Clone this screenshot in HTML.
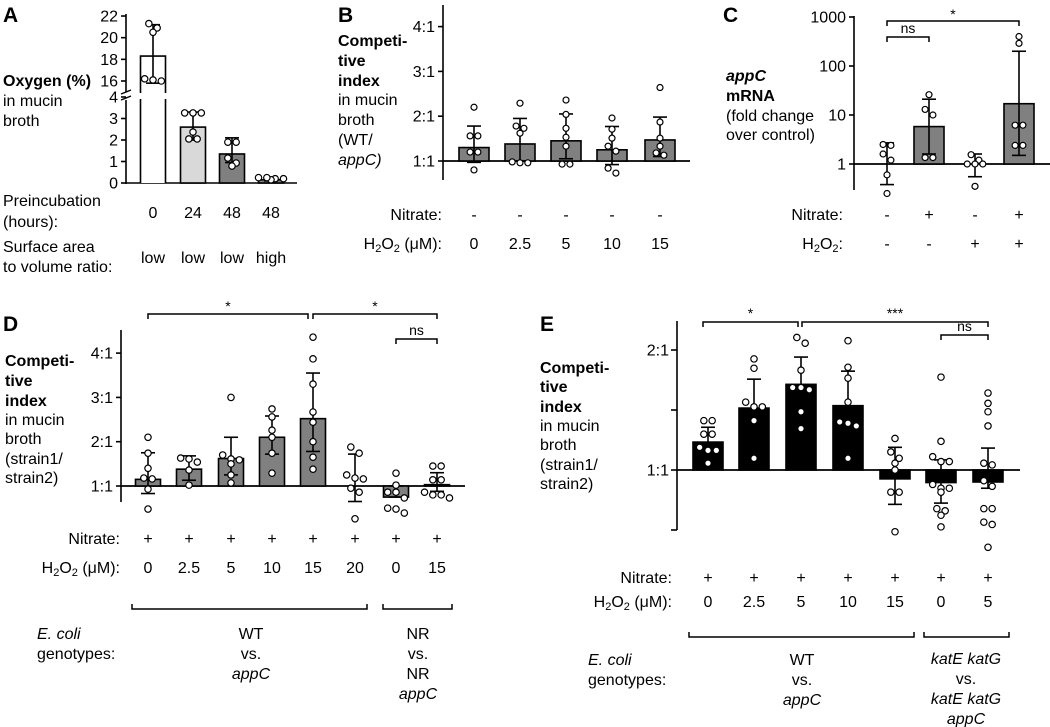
<!DOCTYPE html>
<html><head><meta charset="utf-8"><style>
html,body{margin:0;padding:0;background:#fff;}
svg{display:block;font-family:"Liberation Sans",Arial,sans-serif;}
text{fill:#000;}
</style></head><body>
<svg id="fig" width="1050" height="727" viewBox="0 0 1050 727" xmlns="http://www.w3.org/2000/svg"></svg>
<script>
// ---------- Panel A data ----------
const aCats = ["0","24","48","48"];
const aArea = ["low","low","low","high"];
const aMeans = [18.3,2.6,1.35,0.15];
const aLo = [15.8,2.0,0.95,0.1];
const aHi = [21.2,3.3,2.1,0.25];
const aPts = [[20.9,21.3,20.5,16.0,16.2,16.1],[3.26,3.26,3.26,2.37,2.05,2.05],[1.9,1.9,1.16,0.93,0.79],[0.25,0.2,0.15,0.2,0.25]];
const aFills = ["#ffffff","#d9d9d9","#808080","#808080"];
const aTicksLow = [0,1,2,3,4];
const aTicksHigh = [16,18,20,22];
// ---------- Panel B data ----------
const bNitrate = ["-","-","-","-","-"];
const bH2O2 = ["0","2.5","5","10","15"];
const bMeans = [1.3,1.38,1.45,1.25,1.47];
const bLo = [0.97,1.0,1.05,0.92,1.1];
const bHi = [1.78,1.95,2.05,1.77,1.98];
const bPts = [[2.2,1.56,1.56,1.2,1.2,0.8],[2.29,1.73,1.62,1.78,0.96,0.98,0.96],[2.36,2.04,1.73,1.53,1.33,0.93,0.93],[1.96,1.71,1.51,1.33,1.22,0.84,0.73],[2.64,1.87,1.51,1.33,1.18,1.13]];
const bTicks = [1,2,3,4];
const bTickLabels = ["1:1","2:1","3:1","4:1"];
// ---------- Panel C data ----------
const cNitrate = ["-","+","-","+"];
const cH2O2 = ["-","-","+","+"];
const cMeans = [1,5.8,1,17];
const cLo = [0.38,1.6,0.55,1.5];
const cHi = [2.7,21,1.6,200];
const cPts = [[2.5,2.4,1.6,1.2,0.6,0.25],[26,13,10,1.35,1.35],[1.55,1.2,1.0,1.0,1.0,0.35],[400,290,6.2,6.2,2.4,2.4]];
const cTicks = [1,10,100,1000];
const cTickLabels = ["1","10","100","1000"];
// ---------- Panel D data ----------
const dNitrate = ["+","+","+","+","+","+","+","+"];
const dH2O2 = ["0","2.5","5","10","15","20","0","15"];
const dMeans = [1.15,1.38,1.62,2.1,2.52,1.0,0.75,1.03];
const dLo = [0.83,1.13,1.25,1.72,1.78,0.65,0.75,0.88];
const dHi = [1.75,1.68,2.1,2.58,3.55,1.72,1.0,1.3];
const dPts = [[2.1,1.74,1.4,1.18,1.16,0.93,0.48],[1.63,1.61,1.54,1.36,1.02],[3.0,1.7,1.61,1.59,1.5,1.25,1.07],[2.74,2.56,2.26,2.1,1.74,1.29],[4.36,3.87,3.3,2.67,2.44,2.0,1.65,1.38],[1.88,1.74,1.25,1.18,1.16,0.95,0.86,0.26],[1.29,1.02,0.86,0.86,0.73,0.5,0.48,0.39],[1.45,1.45,1.14,1.14,0.86,0.8,0.8,0.73]];
const dTicks = [1,2,3,4];
const dTickLabels = ["1:1","2:1","3:1","4:1"];
// ---------- Panel E data ----------
const eNitrate = ["+","+","+","+","+","+","+"];
const eH2O2 = ["0","2.5","5","10","15","0","5"];
const eMeans = [1.175,1.43,1.64,1.45,0.95,0.93,0.933];
const eLo = [1.07,1.2,1.4,1.2,0.82,0.826,0.9];
const eHi = [1.28,1.69,1.92,1.77,1.14,1.06,1.135];
const ePts = [[1.33,1.33,1.23,1.23,1.14,1.12,1.12,1.04],[1.9,1.8,1.48,1.44,1.44,1.33,1.07],[2.15,2.08,1.78,1.61,1.61,1.59,1.4,1.27],[2.11,1.81,1.7,1.48,1.32,1.29,1.31,1.07],[1.2,1.11,1.07,1.04,1.0,0.88,0.88,0.70],[1.71,1.18,1.08,1.05,1.05,0.92,0.9,0.9,0.88,0.8,0.79,0.77,0.72],[1.56,1.47,1.4,1.29,1.04,1.03,0.94,0.91,0.8,0.8,0.74,0.73,0.64]];
const eTicks = [0.7071,1,1.4142,2];
const eTickLabels = ["","1:1","","2:1"];

const NS="http://www.w3.org/2000/svg";
const svg=document.getElementById('fig');
function el(tag,attrs,parent){const e=document.createElementNS(NS,tag);for(const k in attrs)e.setAttribute(k,attrs[k]);(parent||svg).appendChild(e);return e;}
function txt(x,y,s,opts,parent){opts=opts||{};const t=el('text',{x:x,y:y,'font-size':opts.size||15,'text-anchor':opts.anchor||'start','font-weight':opts.bold?'bold':'normal','font-style':opts.italic?'italic':'normal'},parent);t.textContent=s;return t;}
function line(x1,y1,x2,y2,w,parent){return el('line',{x1:x1,y1:y1,x2:x2,y2:y2,stroke:'#000','stroke-width':w||1.6},parent);}
function g(name){const e=el('g',{});return e;}

// cluster points with near y, spread horizontally within cluster
function jitter(ys,sp){
  const idx=ys.map((y,i)=>i).sort((a,b)=>ys[a]-ys[b]);
  const off=new Array(ys.length).fill(0);
  let cl=[];
  const flush=()=>{const n=cl.length;cl.forEach((k,j)=>{off[k]=(j-(n-1)/2)*sp;});cl=[];};
  idx.forEach(k=>{ if(cl.length&&Math.abs(ys[k]-ys[cl[0]])>6.5)flush(); cl.push(k); if(cl.length>=4)flush(); });
  flush();
  return off;
}

function drawBarsAndPoints(G,xs,means,lo,hi,pts,fy,base,bw,fill,pr){
  xs.forEach((x,i)=>{
    const fillC=Array.isArray(fill)?fill[i]:fill;
    const yT=fy(means[i]);
    const top=Math.min(yT,base),h=Math.abs(yT-base);
    if(h>0.5){const r=el('rect',{x:x-bw/2,y:top,width:bw,height:h,fill:fillC,stroke:'#000','stroke-width':1.6},G);
      
      }
    const eg=el('g',{},G);
    
    
    line(x,fy(lo[i]),x,fy(hi[i]),1.6,eg);
    line(x-7,fy(hi[i]),x+7,fy(hi[i]),1.6,eg);
    line(x-7,fy(lo[i]),x+7,fy(lo[i]),1.6,eg);
    const ys=pts[i].map(v=>fy(v));
    const off=jitter(ys,(pr||3.2)*2.6);
    ys.forEach((y,j)=>{
      const c=el('circle',{cx:x+off[j],cy:y,r:pr||3.2,fill:'#fff',stroke:'#000','stroke-width':1.2},G);
      
      
    });
  });
}
function bracket(G,x1,x2,y,label,ly){
  el('path',{d:`M${x1},${y+5}V${y}H${x2}V${y+5}`,fill:'none',stroke:'#000','stroke-width':1.5},G);
  txt((x1+x2)/2,ly,label,{anchor:'middle',size:14},G);
}
function h2o2(G,x,y,suffix){const t=txt(x,y,'',{anchor:'end',size:16},G);
  const a=el('tspan',{},t);a.textContent='H';const b=el('tspan',{'font-size':11,dy:3},t);b.textContent='2';
  const c=el('tspan',{dy:-3},t);c.textContent='O';const d=el('tspan',{'font-size':11,dy:3},t);d.textContent='2';
  const e=el('tspan',{dy:-3},t);e.textContent=suffix;}

// ---------- Panel A ----------
(function(){
  const G=g('panel-a');
  txt(3,22,'A',{size:21,bold:true},G);
  const ax=126, base=183;
  const yLow=v=>183-v*21.5;
  const yHigh=v=>81-(v-16)*10.83;
  const fy=v=>v>4?yHigh(v):yLow(v);
  const xs=[153,193,232,271];
  line(ax,14,ax,92,1.6,G); line(ax,100,ax,184,1.6,G);
  line(ax-5,94,ax+5,90,1.4,G); line(ax-5,100,ax+5,96,1.4,G);
  aTicksLow.forEach(t=>{line(ax-5,yLow(t),ax,yLow(t),1.6,G);txt(ax-8,yLow(t)+5.5,String(t),{anchor:'end',size:16},G);});
  aTicksHigh.forEach(t=>{line(ax-5,yHigh(t),ax,yHigh(t),1.6,G);txt(ax-8,yHigh(t)+5.5,String(t),{anchor:'end',size:16},G);});
  line(ax,base,297,base,1.6,G);
  xs.forEach((x,i)=>{
    if(aMeans[i]>4){
      const r=el('rect',{x:x-12.5,y:yHigh(aMeans[i]),width:25,height:base-yHigh(aMeans[i]),fill:aFills[i],stroke:'none'},G);
      
      
      el('path',{d:`M${x-12.5},${base}V99 M${x+12.5},${base}V99 M${x-12.5},93V${yHigh(aMeans[i])}H${x+12.5}V93`,fill:'none',stroke:'#000','stroke-width':1.6},G);
    }
  });
  drawBarsAndPoints(G,xs,aMeans.map(v=>v>4?0:v),aLo,aHi,aPts,fy,base,25,aFills,3.2);
  txt(3,86,'Oxygen (%)',{bold:true,size:16},G);
  txt(3,106,'in mucin',{size:16},G);
  txt(3,126,'broth',{size:16},G);
  txt(3,206,'Preincubation',{size:16},G);
  txt(3,227,'(hours):',{size:16},G);
  txt(3,252,'Surface area',{size:16},G);
  txt(3,272,'to volume ratio:',{size:16},G);
  xs.forEach((x,i)=>{txt(x,218,aCats[i],{anchor:'middle',size:16},G);txt(x,263,aArea[i],{anchor:'middle',size:16},G);});
})();

// ---------- Panel B ----------
(function(){
  const G=g('panel-b');
  txt(338,22,'B',{size:21,bold:true},G);
  const ax=443, fy=v=>161-(v-1)*44.8;
  line(ax,5,ax,180,1.6,G);
  bTicks.forEach((t,i)=>{line(ax-5,fy(t),ax,fy(t),1.6,G);txt(ax-8,fy(t)+5.5,bTickLabels[i],{anchor:'end',size:16},G);});
  line(ax,fy(1),690,fy(1),1.8,G);
  const xs=[474,520,566,612,660];
  drawBarsAndPoints(G,xs,bMeans,bLo,bHi,bPts,fy,fy(1),30,'#808080',3);
  txt(338,46,'Competi-',{bold:true,size:16},G);
  txt(338,66,'tive',{bold:true,size:16},G);
  txt(338,86,'index',{bold:true,size:16},G);
  txt(338,105,'in mucin',{size:16},G);
  txt(338,125,'broth',{size:16},G);
  txt(338,145,'(WT/',{size:16},G);
  txt(338,165,'appC)',{size:16,italic:true},G);
  txt(442,220,'Nitrate:',{anchor:'end',size:16},G);
  h2o2(G,442,249,' (\u03bcM):');
  xs.forEach((x,i)=>{txt(x,220,bNitrate[i],{anchor:'middle',size:16},G);txt(x,249,bH2O2[i],{anchor:'middle',size:16},G);});
})();

// ---------- Panel C ----------
(function(){
  const G=g('panel-c');
  txt(723,22,'C',{size:21,bold:true},G);
  const ax=854, fy=v=>164-49*Math.log10(v);
  line(ax,16,ax,190,1.6,G);
  cTicks.forEach((t,i)=>{line(ax-5,fy(t),ax,fy(t),1.6,G);txt(ax-8,fy(t)+5.5,cTickLabels[i],{anchor:'end',size:16},G);});
  line(ax,fy(1),1050,fy(1),1.8,G);
  const xs=[887,929,975,1019];
  drawBarsAndPoints(G,xs,cMeans,cLo,cHi,cPts,fy,fy(1),30,'#808080',3);
  bracket(G,887,929,37,'ns',33);
  bracket(G,887,1019,21,'*',19);
  txt(726,81,'appC',{bold:true,italic:true,size:16},G);
  txt(726,101,'mRNA',{bold:true,size:16},G);
  txt(726,121,'(fold change',{size:16},G);
  txt(726,140,'over control)',{size:16},G);
  txt(843,220,'Nitrate:',{anchor:'end',size:16},G);
  h2o2(G,843,249,':');
  xs.forEach((x,i)=>{txt(x,220,cNitrate[i],{anchor:'middle',size:16},G);txt(x,249,cH2O2[i],{anchor:'middle',size:16},G);});
})();

// ---------- Panel D ----------
(function(){
  const G=g('panel-d');
  txt(3,331,'D',{size:21,bold:true},G);
  const ax=121, fy=v=>486-(v-1)*44.3;
  line(ax,330,ax,502,1.6,G);
  dTicks.forEach((t,i)=>{line(ax-5,fy(t),ax,fy(t),1.6,G);txt(ax-8,fy(t)+5.5,dTickLabels[i],{anchor:'end',size:16},G);});
  line(ax,fy(1),465,fy(1),1.8,G);
  const xs=[148,189,231,272,313,355,396,437];
  drawBarsAndPoints(G,xs,dMeans,dLo,dHi,dPts,fy,fy(1),25,'#808080',3.2);
  bracket(G,148,308,314,'*',311);
  bracket(G,313,437,314,'*',311);
  bracket(G,396,437,339,'ns',335);
  txt(5,366,'Competi-',{bold:true,size:16},G);
  txt(5,386,'tive',{bold:true,size:16},G);
  txt(5,406,'index',{bold:true,size:16},G);
  txt(5,425,'in mucin',{size:16},G);
  txt(5,444,'broth',{size:16},G);
  txt(5,464,'(strain1/',{size:16},G);
  txt(5,483,'strain2)',{size:16},G);
  txt(120,544,'Nitrate:',{anchor:'end',size:16},G);
  h2o2(G,120,573,' (\u03bcM):');
  xs.forEach((x,i)=>{txt(x,544,dNitrate[i],{anchor:'middle',size:16},G);txt(x,573,dH2O2[i],{anchor:'middle',size:16},G);});
  el('path',{d:'M132,604V609H367V604 M383,604V609H452V604',fill:'none',stroke:'#000','stroke-width':1.5},G);
  txt(37,639,'E. coli',{italic:true,size:16},G);
  txt(37,659,'genotypes:',{size:16},G);
  txt(251,639,'WT',{anchor:'middle',size:16},G);
  txt(251,659,'vs.',{anchor:'middle',size:16},G);
  txt(251,679,'appC',{anchor:'middle',italic:true,size:16},G);
  txt(418,639,'NR',{anchor:'middle',size:16},G);
  txt(418,659,'vs.',{anchor:'middle',size:16},G);
  txt(418,679,'NR',{anchor:'middle',size:16},G);
  txt(418,699,'appC',{anchor:'middle',italic:true,size:16},G);
})();

// ---------- Panel E ----------
(function(){
  const G=g('panel-e');
  txt(540,331,'E',{size:21,bold:true},G);
  const ax=677, fy=v=>470-120*Math.log2(v);
  line(ax,321,ax,530,1.6,G);
  eTicks.forEach((t,i)=>{line(ax-6,fy(t),ax,fy(t),1.6,G);if(eTickLabels[i])txt(ax-8,fy(t)+5.5,eTickLabels[i],{anchor:'end',size:16},G);});
  line(ax,fy(1),1020,fy(1),1.8,G);
  const xs=[708,754,801,848,895,941,988];
  drawBarsAndPoints(G,xs,eMeans,eLo,eHi,ePts,fy,fy(1),30,'#000',3.2);
  bracket(G,703,798,322,'*',318);
  bracket(G,802,988,322,'***',318);
  bracket(G,941,988,335,'ns',331);
  txt(540,373,'Competi-',{bold:true,size:16},G);
  txt(540,392,'tive',{bold:true,size:16},G);
  txt(540,412,'index',{bold:true,size:16},G);
  txt(540,431,'in mucin',{size:16},G);
  txt(540,450,'broth',{size:16},G);
  txt(540,470,'(strain1/',{size:16},G);
  txt(540,489,'strain2)',{size:16},G);
  txt(672,583,'Nitrate:',{anchor:'end',size:16},G);
  h2o2(G,672,607,' (\u03bcM):');
  xs.forEach((x,i)=>{txt(x,583,eNitrate[i],{anchor:'middle',size:16},G);txt(x,607,eH2O2[i],{anchor:'middle',size:16},G);});
  el('path',{d:'M689,632V637H914V632 M924,632V637H1009V632',fill:'none',stroke:'#000','stroke-width':1.5},G);
  txt(588,665,'E. coli',{italic:true,size:16},G);
  txt(588,685,'genotypes:',{size:16},G);
  txt(802,665,'WT',{anchor:'middle',size:16},G);
  txt(802,685,'vs.',{anchor:'middle',size:16},G);
  txt(802,705,'appC',{anchor:'middle',italic:true,size:16},G);
  txt(966,664,'katE katG',{anchor:'middle',italic:true,size:16},G);
  txt(966,684,'vs.',{anchor:'middle',size:16},G);
  txt(966,704,'katE katG',{anchor:'middle',italic:true,size:16},G);
  txt(966,724,'appC',{anchor:'middle',italic:true,size:16},G);
})();
</script>
</body></html>
